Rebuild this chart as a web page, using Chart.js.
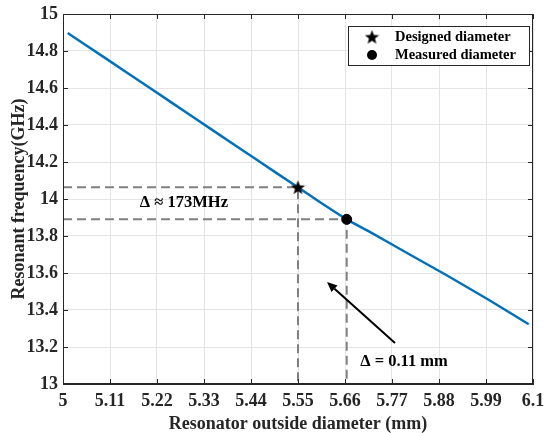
<!DOCTYPE html>
<html>
<head>
<meta charset="utf-8">
<script src="https://cdn.jsdelivr.net/npm/chart.js@4"></script>
<style>
  html, body { margin: 0; padding: 0; background: #fff; }
  #wrap { width: 544px; height: 433px; }
</style>
</head>
<body>
<div id="wrap"><canvas id="c" width="544" height="433"></canvas></div>
<script>
// Resonant frequency vs. resonator outside diameter
const diameters   = [5.011, 5.1, 5.2, 5.3, 5.4, 5.5, 5.55, 5.6, 5.664, 5.72, 5.8, 5.9, 6.0, 6.09];
const frequencies = [14.897, 14.76, 14.605, 14.45, 14.295, 14.14, 14.063, 13.985, 13.89, 13.82, 13.715, 13.585, 13.45, 13.323];

const xTicks = [5, 5.11, 5.22, 5.33, 5.44, 5.55, 5.66, 5.77, 5.88, 5.99, 6.1];
const yTicks = [13, 13.2, 13.4, 13.6, 13.8, 14, 14.2, 14.4, 14.6, 14.8, 15];

// Designed vs. measured operating points
const designedPoint = { d: 5.55,  f: 14.063 };
const measuredPoint = { d: 5.664, f: 13.89 };

const legendLabels = ['Designed diameter', 'Measured diameter'];
const freqNote  = { text: 'Δ ≈ 173MHz', d: 5.283, f: 13.978 };
const diamNote  = { text: 'Δ = 0.11 mm', d: 5.798, f: 13.119 };
const arrowFrom = { d: 5.777, f: 13.222 };
const arrowTo   = { d: 5.618, f: 13.551 };

const SERIF = '"Liberation Serif", "Times New Roman", serif';
const AXIS_COLOR = '#262626';

// filled five-pointed star used as a point style
function makeStar(size) {
  const cv = document.createElement('canvas');
  cv.width = size; cv.height = size;
  const g = cv.getContext('2d');
  const cx = size / 2, cy = size / 2 + size * 0.04;
  const R = size / 2, r = R * 0.42;
  g.beginPath();
  for (let i = 0; i < 10; i++) {
    const rad = i % 2 === 0 ? R : r;
    const a = -Math.PI / 2 + i * Math.PI / 5;
    const px = cx + rad * Math.cos(a), py = cy + rad * Math.sin(a);
    if (i === 0) g.moveTo(px, py); else g.lineTo(px, py);
  }
  g.closePath();
  g.fillStyle = '#000';
  g.fill();
  return cv;
}
const starImg = makeStar(15);

// frame, inward ticks, legend box and annotations
const decorations = {
  id: 'decorations',
  afterDatasetsDraw(chart) {
    const { ctx, chartArea: a, scales: { x, y } } = chart;
    ctx.save();
    // box around the axes
    ctx.strokeStyle = AXIS_COLOR;
    ctx.lineWidth = 1;
    ctx.strokeRect(a.left + 0.5, a.top + 0.5, a.right - a.left - 1, a.bottom - a.top - 1);
    // inward ticks on all four sides
    const tl = 5;
    ctx.beginPath();
    xTicks.forEach(v => {
      const px = Math.round(x.getPixelForValue(v)) + 0.5;
      ctx.moveTo(px, a.bottom); ctx.lineTo(px, a.bottom - tl);
      ctx.moveTo(px, a.top); ctx.lineTo(px, a.top + tl);
    });
    yTicks.forEach(v => {
      const py = Math.round(y.getPixelForValue(v)) + 0.5;
      ctx.moveTo(a.left, py); ctx.lineTo(a.left + tl, py);
      ctx.moveTo(a.right, py); ctx.lineTo(a.right - tl, py);
    });
    ctx.stroke();

    // legend
    const bx = 348.5, by = 26.5, bw = 181, bh = 39;
    ctx.fillStyle = '#fff';
    ctx.fillRect(bx, by, bw, bh);
    ctx.strokeStyle = AXIS_COLOR;
    ctx.strokeRect(bx, by, bw, bh);
    ctx.drawImage(starImg, 372 - 7.5, 37 - 7.5);
    ctx.fillStyle = '#000';
    ctx.beginPath();
    ctx.arc(372, 55, 5, 0, Math.PI * 2);
    ctx.fill();
    ctx.font = 'bold 14.5px ' + SERIF;
    ctx.textAlign = 'left';
    ctx.textBaseline = 'middle';
    ctx.fillText(legendLabels[0], 395, 37);
    ctx.fillText(legendLabels[1], 395, 55);

    // text notes
    ctx.font = 'bold 16.5px ' + SERIF;
    ctx.textAlign = 'center';
    ctx.fillText(freqNote.text, x.getPixelForValue(freqNote.d), y.getPixelForValue(freqNote.f));
    ctx.fillText(diamNote.text, x.getPixelForValue(diamNote.d), y.getPixelForValue(diamNote.f));

    // arrow
    const x0 = x.getPixelForValue(arrowFrom.d), y0 = y.getPixelForValue(arrowFrom.f);
    const x1 = x.getPixelForValue(arrowTo.d),   y1 = y.getPixelForValue(arrowTo.f);
    const ang = Math.atan2(y1 - y0, x1 - x0);
    const hl = 10, hw = 4.5;
    const bxh = x1 - hl * Math.cos(ang), byh = y1 - hl * Math.sin(ang);
    ctx.strokeStyle = '#000';
    ctx.lineWidth = 2;
    ctx.beginPath();
    ctx.moveTo(x0, y0); ctx.lineTo(bxh, byh);
    ctx.stroke();
    ctx.beginPath();
    ctx.moveTo(x1, y1);
    ctx.lineTo(bxh + hw * Math.sin(ang), byh - hw * Math.cos(ang));
    ctx.lineTo(bxh - hw * Math.sin(ang), byh + hw * Math.cos(ang));
    ctx.closePath();
    ctx.fillStyle = '#000';
    ctx.fill();
    ctx.restore();
  }
};

const guide = (p) => [
  { x: 5, y: p.f },
  { x: p.d, y: p.f },
  { x: p.d, y: 13 }
];

new Chart(document.getElementById('c'), {
  type: 'scatter',
  data: {
    datasets: [
      {
        label: legendLabels[0],
        data: [{ x: designedPoint.d, y: designedPoint.f }],
        pointStyle: starImg,
        order: 0
      },
      {
        label: legendLabels[1],
        data: [{ x: measuredPoint.d, y: measuredPoint.f }],
        pointStyle: 'circle',
        pointRadius: 5,
        backgroundColor: '#000',
        borderColor: '#000',
        order: 0
      },
      {
        label: 'frequency',
        data: diameters.map((d, i) => ({ x: d, y: frequencies[i] })),
        showLine: true,
        borderColor: '#0072BD',
        borderWidth: 2.5,
        pointRadius: 0,
        tension: 0.2,
        order: 1
      },
      {
        label: 'designed guide',
        data: guide(designedPoint),
        showLine: true,
        borderColor: '#808080',
        borderWidth: 2,
        borderDash: [9, 5],
        pointRadius: 0,
        order: 2
      },
      {
        label: 'measured guide',
        data: guide(measuredPoint),
        showLine: true,
        borderColor: '#808080',
        borderWidth: 2,
        borderDash: [9, 5],
        pointRadius: 0,
        order: 2
      }
    ]
  },
  options: {
    responsive: false,
    devicePixelRatio: 1,
    animation: false,
    layout: { padding: { top: 14, right: 11, left: 9, bottom: 0 } },
    plugins: { legend: { display: false }, tooltip: { enabled: false } },
    scales: {
      x: {
        type: 'linear',
        min: 5, max: 6.1,
        afterBuildTicks: (s) => { s.ticks = xTicks.map(v => ({ value: v })); },
        afterFit: (s) => {
          s.height = 49;
          s.paddingLeft = 0;
          s.paddingRight = 0;
        },
        grid: { color: '#e4e4e4', drawTicks: false },
        border: { color: AXIS_COLOR },
        ticks: {
          padding: 7,
          color: AXIS_COLOR,
          font: { family: SERIF, size: 18, weight: 'bold' },
          maxRotation: 0,
          autoSkip: false,
          callback: (v) => String(+Number(v).toFixed(2))
        },
        title: {
          display: true,
          text: 'Resonator outside diameter (mm)',
          color: AXIS_COLOR,
          padding: { top: 0, bottom: 0 },
          font: { family: SERIF, size: 18, weight: 'bold', lineHeight: 1 }
        }
      },
      y: {
        min: 13, max: 15,
        afterBuildTicks: (s) => { s.ticks = yTicks.map(v => ({ value: v })); },
        afterFit: (s) => {
          s.width = 54;
          s.paddingTop = 0;
          s.paddingBottom = 0;
        },
        grid: { color: '#e4e4e4', drawTicks: false },
        border: { color: AXIS_COLOR },
        ticks: {
          padding: 5,
          color: AXIS_COLOR,
          font: { family: SERIF, size: 18, weight: 'bold' },
          callback: (v) => String(+Number(v).toFixed(1))
        },
        title: {
          display: true,
          text: 'Resonant frequency(GHz)',
          color: AXIS_COLOR,
          padding: { top: 0, bottom: 0 },
          font: { family: SERIF, size: 18, weight: 'bold' }
        }
      }
    }
  },
  plugins: [decorations]
});
</script>
</body>
</html>
